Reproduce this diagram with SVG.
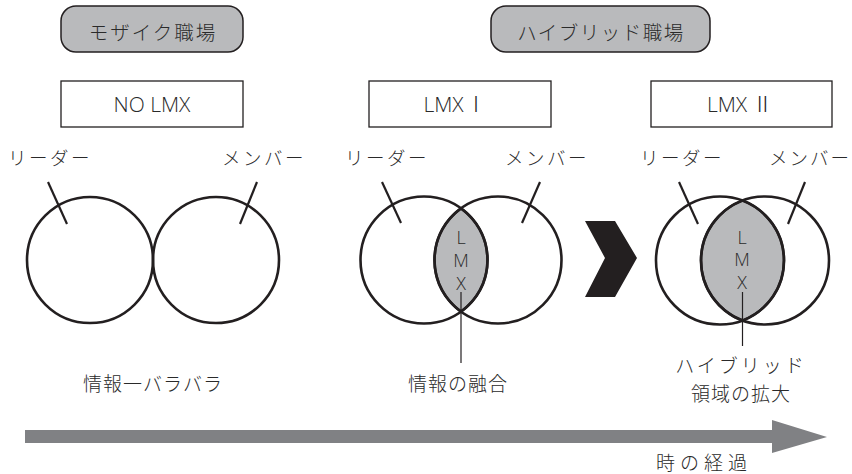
<svg xmlns="http://www.w3.org/2000/svg" width="852" height="474" viewBox="0 0 852 474">
<style>
.pill{fill:#b9babc;stroke:#231f20;stroke-width:1.5}
.box{fill:#fff;stroke:#231f20;stroke-width:1.3}
.c{fill:none;stroke:#231f20;stroke-width:2.6}
.lens{fill:#b9babc;stroke:#231f20;stroke-width:2.6}
.ld{stroke:#231f20;stroke-width:2.2;fill:none}
.thin{stroke:#231f20;stroke-width:1.2;fill:none}
.jp{font-family:"Noto Sans CJK JP","Noto Sans",sans-serif;font-weight:300;fill:#2a2a2a}
.en{font-family:"Open Sans","Noto Sans",sans-serif;font-weight:300;fill:#2a2a2a}
.num{font-family:"Noto Sans CJK JP",sans-serif;font-weight:300;fill:#2a2a2a}
</style>
<rect width="852" height="474" fill="#fff"/>
<g id="mosaic">
<rect class="pill" x="61" y="6" width="182" height="46" rx="15"/>
<text class="jp" x="153" y="40" font-size="19.5" letter-spacing="2" text-anchor="middle">モザイク職場</text>
</g>
<g id="hybrid">
<rect class="pill" x="491" y="6" width="219" height="46" rx="15"/>
<text class="jp" x="601" y="40" font-size="19.5" letter-spacing="1.5" text-anchor="middle">ハイブリッド職場</text>
</g>
<g id="nolmx">
<rect class="box" x="61" y="81" width="182" height="46"/>
<text class="en" x="152" y="112" font-size="21" text-anchor="middle">NO LMX</text>
</g>
<g id="lmx1">
<rect class="box" x="369" y="81" width="182" height="46"/>
<text class="en" x="455" y="112" font-size="21" text-anchor="middle">LMX<tspan class="num" dx="2">Ⅰ</tspan></text>
</g>
<g id="lmx2">
<rect class="box" x="651" y="81" width="181" height="46"/>
<text class="en" x="740" y="112" font-size="21" text-anchor="middle">LMX<tspan class="num" dx="5">Ⅱ</tspan></text>
</g>
<g id="diagram1">
<circle class="c" cx="90" cy="260" r="63"/>
<circle class="c" cx="216" cy="260" r="63"/>
<text class="jp" x="8" y="165" font-size="18.5" letter-spacing="2.5">リーダー</text>
<text class="jp" x="222" y="165" font-size="18.5" letter-spacing="2.5">メンバー</text>
<text class="jp" x="153" y="391" font-size="19" letter-spacing="1" text-anchor="middle">情報一バラバラ</text>
</g>
<g id="diagram2">
<path class="lens" d="M461 208.4 A63.5 63.5 0 0 1 461 311.6 A63.5 63.5 0 0 1 461 208.4 Z"/>
<circle class="c" cx="424" cy="260" r="63.5"/>
<circle class="c" cx="498" cy="260" r="63.5"/>
<text class="en" x="461" y="244" font-size="18" text-anchor="middle">L</text>
<text class="en" x="461" y="267" font-size="18" text-anchor="middle">M</text>
<text class="en" x="461" y="290" font-size="18" text-anchor="middle">X</text>
<text class="jp" x="345" y="165" font-size="18.5" letter-spacing="2.5">リーダー</text>
<text class="jp" x="505" y="165" font-size="18.5" letter-spacing="2.5">メンバー</text>
<text class="jp" x="458" y="391" font-size="19" letter-spacing="1" text-anchor="middle">情報の融合</text>
</g>
<g id="diagram3">
<path class="lens" d="M742.5 200.6 A64 64 0 0 1 742.5 320.4 A64 64 0 0 1 742.5 200.6 Z"/>
<circle class="c" cx="720" cy="260.5" r="64"/>
<circle class="c" cx="765" cy="260.5" r="64"/>
<text class="en" x="742" y="244" font-size="18" text-anchor="middle">L</text>
<text class="en" x="742" y="266" font-size="18" text-anchor="middle">M</text>
<text class="en" x="742" y="289" font-size="18" text-anchor="middle">X</text>
<text class="jp" x="640" y="165" font-size="18.5" letter-spacing="2.5">リーダー</text>
<text class="jp" x="769" y="165" font-size="18.5" letter-spacing="2">メンバー</text>
<text class="jp" x="741" y="373" font-size="19" letter-spacing="3" text-anchor="middle">ハイブリッド</text>
<text class="jp" x="741" y="401" font-size="19" letter-spacing="1" text-anchor="middle">領域の拡大</text>
</g>
<g id="chevron">
<polygon points="585,221 615,221 637,258 615,297 585,297 605,258" fill="#231f20"/>
</g>
<g id="timeline">
<rect x="25" y="430" width="748" height="13" fill="#808184"/>
<polygon points="772,420 827,437 772,453" fill="#808184"/>
<text class="jp" x="704" y="470" font-size="19" letter-spacing="5" text-anchor="middle">時の経過</text>
</g>
<g id="connectors">
<line class="ld" x1="48" y1="182" x2="67" y2="224"/>
<line class="ld" x1="257" y1="182" x2="240" y2="224"/>
<line class="ld" x1="382" y1="182" x2="401" y2="223"/>
<line class="ld" x1="540" y1="182" x2="522" y2="223"/>
<line class="ld" x1="679" y1="182" x2="698" y2="224"/>
<line class="ld" x1="805" y1="182" x2="788" y2="224"/>
<line class="thin" x1="461" y1="292" x2="461" y2="363"/>
<line class="thin" x1="742.5" y1="292" x2="742.5" y2="346"/>
</g>
</svg>
